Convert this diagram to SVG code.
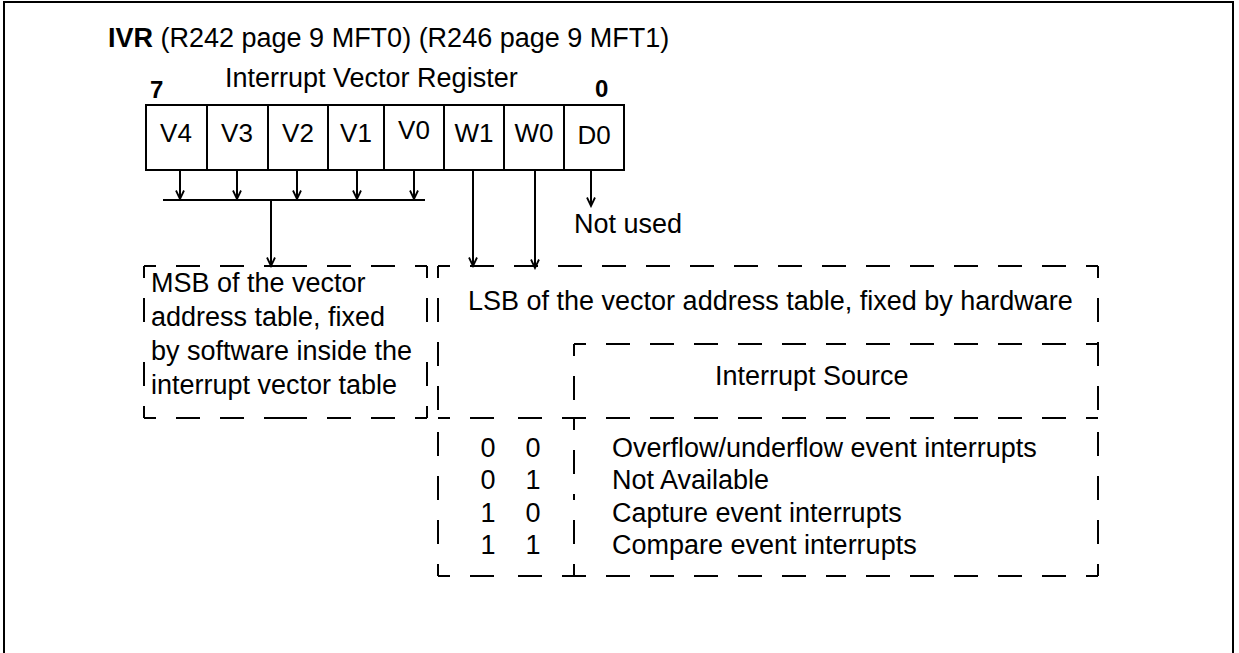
<svg xmlns="http://www.w3.org/2000/svg" width="1239" height="653" viewBox="0 0 1239 653">
<style>
text{font-family:"Liberation Sans",Arial,Helvetica,sans-serif;font-size:27px;fill:#000}
.b{font-weight:bold}
.c{text-anchor:middle;font-size:26px}
.ln{stroke:#000;stroke-width:2;fill:none}
.d{stroke:#000;stroke-width:2;fill:none;stroke-dasharray:24 20;stroke-dashoffset:12}
</style>
<defs>
<marker id="ah" viewBox="0 0 12 12" markerWidth="12" markerHeight="12" refX="10" refY="6" orient="auto" markerUnits="userSpaceOnUse">
<path d="M1.5,2 L10,6 L1.5,10" fill="none" stroke="#000" stroke-width="1.8"/>
</marker>
</defs>
<rect width="1239" height="653" fill="#fff"/>
<path class="ln" d="M4,660 V2 H1233 V660"/>

<g id="title">
<text x="108" y="47"><tspan class="b">IVR</tspan> (R242 page 9 MFT0) (R246 page 9 MFT1)</text>
<text x="225" y="87">Interrupt Vector Register</text>
<text x="150" y="98" class="b" style="font-size:24px">7</text>
<text x="595" y="97" class="b" style="font-size:24px">0</text>
</g>

<g id="register">
<rect class="ln" x="146" y="105" width="478" height="65"/>
<path class="ln" d="M207,105V170M268,105V170M328,105V170M384,105V170M444,105V170M504,105V170M564,105V170"/>
<text class="c" x="176" y="142">V4</text>
<text class="c" x="237" y="142">V3</text>
<text class="c" x="298" y="142">V2</text>
<text class="c" x="356" y="142">V1</text>
<text class="c" x="414" y="139">V0</text>
<text class="c" x="474" y="142">W1</text>
<text class="c" x="534" y="142">W0</text>
<text class="c" x="594" y="144">D0</text>
</g>

<g id="connectors">
<path class="ln" d="M180,170V199" marker-end="url(#ah)"/>
<path class="ln" d="M237,170V199" marker-end="url(#ah)"/>
<path class="ln" d="M297,170V199" marker-end="url(#ah)"/>
<path class="ln" d="M357,170V199" marker-end="url(#ah)"/>
<path class="ln" d="M414,170V199" marker-end="url(#ah)"/>
<path class="ln" d="M163,200H425"/>
<path class="ln" d="M271,200V266" marker-end="url(#ah)"/>
<path class="ln" d="M473,170V266" marker-end="url(#ah)"/>
<path class="ln" d="M535,170V268" marker-end="url(#ah)"/>
<path class="ln" d="M591,170V206" marker-end="url(#ah)"/>
</g>

<g id="notused">
<text x="574" y="233">Not used</text>
</g>

<g id="msb">
<path class="d" d="M144,266H286M427,266H286M144,266V342M144,418V342M427,266V342M427,418V342M144,418H286M427,418H286"/>
<text x="151" y="292">MSB of the vector</text>
<text x="151" y="326">address table, fixed</text>
<text x="151" y="360">by software inside the</text>
<text x="151" y="394">interrupt vector table</text>
</g>

<g id="lsb">
<path class="d" d="M438,266H768M1098,266H768M438,266V421M438,576V421M1098,266V421M1098,576V421M438,576H506M574,576H506M574,576H836M1098,576H836M438,418H506M574,418H506"/>
<text x="468" y="310">LSB of the vector address table, fixed by hardware</text>
</g>

<g id="source">
<path class="d" d="M574,344H836M1098,344H836M574,344V418M574,418H836M1098,418H836M574,418V497M574,576V497"/>
<text x="715" y="385">Interrupt Source</text>
</g>

<g id="rows">
<text x="488" y="457" class="c" style="font-size:27px">0</text><text x="533" y="457" class="c" style="font-size:27px">0</text>
<text x="612" y="457">Overflow/underflow event interrupts</text>
<text x="488" y="489" class="c" style="font-size:27px">0</text><text x="533" y="489" class="c" style="font-size:27px">1</text>
<text x="612" y="489">Not Available</text>
<text x="488" y="522" class="c" style="font-size:27px">1</text><text x="533" y="522" class="c" style="font-size:27px">0</text>
<text x="612" y="522">Capture event interrupts</text>
<text x="488" y="554" class="c" style="font-size:27px">1</text><text x="533" y="554" class="c" style="font-size:27px">1</text>
<text x="612" y="554">Compare event interrupts</text>
</g>
</svg>
